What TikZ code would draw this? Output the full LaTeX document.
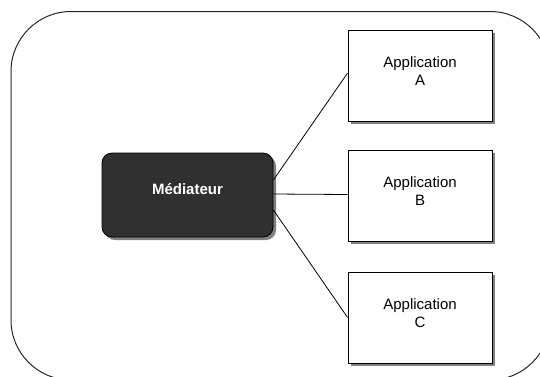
\documentclass[tikz,border=0pt]{standalone}
\usepackage{fontspec}
\setmainfont{Liberation Sans}
\begin{document}
\begin{tikzpicture}[x=1bp,y=-1bp,
  shadowed/.style={preaction={fill=shadowgray, transform canvas={shift={(3bp,-3bp)}}}},
  appbox/.style={draw=black, line width=0.8bp, fill=white, minimum width=144bp, minimum height=91bp, inner sep=0pt, shadowed},
  medbox/.style={draw=black, line width=0.8bp, fill=meddark, rounded corners=10bp, minimum width=171bp, minimum height=84bp, inner sep=0pt, shadowed},
  txt/.style={align=center, font=\fontsize{15bp}{18bp}\selectfont, inner sep=0pt},
  link/.style={draw=black, line width=0.8bp},
  frame/.style={draw=black!85, line width=1bp, rounded corners=60bp}]
\definecolor{shadowgray}{HTML}{808080}
\definecolor{meddark}{HTML}{303030}
\useasboundingbox (0,0) rectangle (540,376);
\begin{scope}
\clip (0,0) rectangle (540,376);
\draw[frame] (11,11.5) rectangle (550,380);
\end{scope}
\node[appbox] (a) at (420,75.5) {};
\node[appbox] (b) at (420,195.5) {};
\node[appbox] (c) at (420,317.5) {};
\node[medbox] (m) at (187.5,195) {};
\node[txt] (ta) at ([yshift=4bp]a.center) {Application\\A};
\node[txt] (tb) at ([yshift=4bp]b.center) {Application\\B};
\node[txt] (tc) at ([yshift=4bp]c.center) {Application\\C};
\node[txt, text=white, font=\fontsize{15bp}{18bp}\selectfont\bfseries] (tm) at ([yshift=5.5bp]m.center) {Médiateur};
\draw[link] ([yshift=15bp]m.east) -- ([yshift=2.5bp]a.west);
\draw[link] ([yshift=1bp]m.east) -- ([yshift=1bp]b.west);
\draw[link] ([yshift=-15bp]m.east) -- (c.west);
\end{tikzpicture}
\end{document}
